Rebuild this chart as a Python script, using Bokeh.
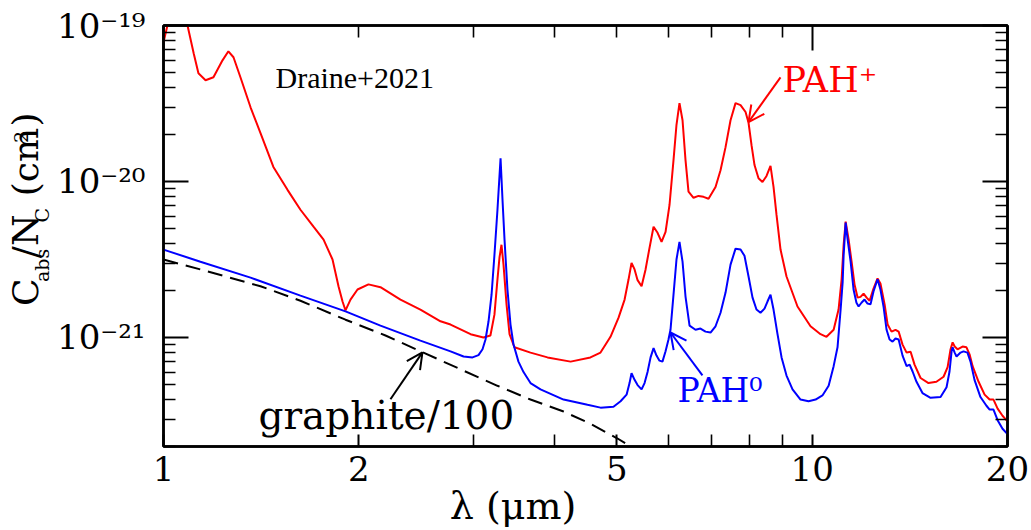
import numpy as np
from bokeh.plotting import figure
from bokeh.layouts import row
from bokeh.models import (Range1d, LogAxis, FixedTicker, CustomJSTickFormatter,
                          Label, Arrow, OpenHead, ColumnDataSource)
from bokeh.core.properties import value
from bokeh.embed import file_html
from bokeh.resources import INLINE

# ---------------- data ----------------
# wavelength in micron, absorption cross section per C atom in units of 1e-21 cm^2
UNIT = 1e-21

pah_ion_wav = [1.000, 1.014, 1.033, 1.051, 1.070, 1.089, 1.113, 1.132, 1.161, 1.194,
               1.233, 1.259, 1.282, 1.314, 1.362, 1.411, 1.477, 1.553, 1.626, 1.703,
               1.765, 1.822, 1.861, 1.888, 1.908, 1.942, 1.991, 2.070, 2.160, 2.319,
               2.489, 2.673, 2.770, 2.974, 3.113, 3.191, 3.237, 3.272, 3.296, 3.319,
               3.343, 3.379, 3.415, 3.476, 3.679, 3.908, 4.242, 4.551, 4.717, 4.887,
               5.029, 5.138, 5.211, 5.266, 5.323, 5.380, 5.457, 5.535, 5.614, 5.694,
               5.776, 5.858, 5.942, 6.026, 6.112, 6.177, 6.243, 6.311, 6.378, 6.446,
               6.562, 6.679, 6.799, 6.921, 7.095, 7.222, 7.352, 7.483, 7.617, 7.754,
               7.893, 7.977, 8.062, 8.148, 8.264, 8.382, 8.503, 8.624, 8.717, 8.810,
               8.936, 9.128, 9.491, 9.940, 10.30, 10.52, 10.79, 10.98, 11.10, 11.18,
               11.26, 11.38, 11.50, 11.62, 11.75, 11.87, 12.00, 12.13, 12.26, 12.43,
               12.61, 12.74, 12.93, 13.07, 13.25, 13.44, 13.59, 13.78, 13.98, 14.18,
               14.38, 14.69, 15.11, 15.54, 15.94, 16.17, 16.34, 16.46, 16.58, 16.75,
               17.05, 17.29, 17.48, 17.67, 18.05, 18.44, 18.77, 19.03, 19.31, 19.65,
               20.00]
pah_ion_cabs = [78, 100, 122, 128, 116, 100, 66.4, 49.4, 44.6, 46.6,
                59.8, 68.3, 62.6, 46.6, 29.9, 20.4, 12.4, 8.84, 6.59, 5.13,
                4.24, 3.16, 2.13, 1.70, 1.49, 1.75, 2.03, 2.19, 2.10, 1.75,
                1.51, 1.27, 1.21, 1.05, 1.00, 1.03, 1.40, 2.36, 3.27, 3.93,
                2.93, 1.63, 1.05, 0.865, 0.80, 0.745, 0.70, 0.745, 0.80, 1.01,
                1.34, 1.75, 2.36, 3.01, 2.73, 2.33, 2.13, 2.73, 3.77, 5.13,
                4.69, 4.10, 4.76, 7.07, 13.7, 23.1, 31.8, 24.7, 13.7, 8.6,
                7.86, 8.08, 7.97, 7.75, 9.23, 11.8, 16.6, 24.7, 31.8, 30.9,
                27.9, 23.8, 17.1, 12.75, 10.5, 9.93, 10.85, 12.6, 9.23, 6.1,
                3.66, 2.46, 1.58, 1.18, 1.05, 1.01, 1.12, 1.51, 2.36, 3.93,
                5.53, 4.24, 3.06, 2.19, 1.80, 1.82, 1.91, 1.80, 1.72, 2.06,
                2.39, 2.22, 1.63, 1.21, 1.09, 1.12, 1.09, 0.90, 0.80, 0.81,
                0.67, 0.55, 0.51, 0.52, 0.56, 0.645, 0.84, 0.93, 0.875, 0.84,
                0.875, 0.865, 0.78, 0.655, 0.52, 0.43, 0.40, 0.40, 0.35, 0.315,
                0.29]

pah_neu_wav = [1.000, 1.140, 1.362, 1.626, 1.908, 2.160, 2.489, 2.770, 2.901, 2.995,
               3.059, 3.103, 3.136, 3.170, 3.204, 3.237, 3.272, 3.308, 3.331, 3.355,
               3.390, 3.427, 3.463, 3.525, 3.589, 3.679, 3.812, 4.137, 4.504, 4.717,
               4.939, 5.065, 5.174, 5.229, 5.266, 5.323, 5.380, 5.457, 5.515, 5.574,
               5.634, 5.694, 5.754, 5.815, 5.877, 5.942, 6.004, 6.047, 6.112, 6.177,
               6.243, 6.311, 6.378, 6.470, 6.608, 6.726, 6.847, 6.970, 7.095, 7.222,
               7.352, 7.483, 7.617, 7.754, 7.863, 7.977, 8.091, 8.205, 8.323, 8.442,
               8.532, 8.624, 8.717, 8.841, 8.969, 9.128, 9.325, 9.594, 9.870, 10.12,
               10.37, 10.60, 10.79, 10.94, 11.06, 11.14, 11.18, 11.26, 11.34, 11.46,
               11.58, 11.70, 11.79, 11.91, 12.04, 12.17, 12.30, 12.43, 12.61, 12.74,
               12.88, 13.02, 13.16, 13.30, 13.44, 13.59, 13.78, 13.98, 14.13, 14.28,
               14.48, 14.79, 15.22, 15.77, 16.11, 16.28, 16.40, 16.46, 16.58, 16.69,
               16.93, 17.11, 17.35, 17.54, 17.79, 18.17, 18.56, 18.77, 19.03, 19.31,
               19.65, 20.00]
pah_neu_cabs = [3.66, 3.06, 2.42, 1.856, 1.47, 1.19, 0.955, 0.815, 0.755, 0.745,
                0.77, 0.84, 0.97, 1.27, 1.88, 3.38, 6.59, 14.1, 7.64, 4.24,
                2.03, 1.21, 0.905, 0.70, 0.60, 0.51, 0.465, 0.40, 0.37, 0.355,
                0.36, 0.39, 0.43, 0.51, 0.59, 0.535, 0.495, 0.465, 0.51, 0.60,
                0.745, 0.855, 0.765, 0.71, 0.70, 0.815, 0.97, 1.12, 1.88, 3.16,
                4.10, 3.06, 1.83, 1.19, 1.12, 1.14, 1.09, 1.075, 1.18, 1.44,
                1.94, 2.93, 3.71, 3.66, 3.34, 2.46, 1.80, 1.51, 1.44, 1.53,
                1.70, 1.88, 1.51, 1.05, 0.745, 0.57, 0.465, 0.40, 0.39, 0.40,
                0.425, 0.49, 0.655, 0.865, 1.51, 2.25, 3.38, 5.45, 4.24, 3.06,
                2.03, 1.67, 1.58, 1.67, 1.75, 1.65, 1.63, 1.97, 2.36, 2.03,
                1.58, 1.12, 0.97, 0.94, 0.985, 0.97, 0.765, 0.655, 0.67, 0.605,
                0.52, 0.44, 0.41, 0.415, 0.48, 0.605, 0.815, 0.865, 0.80, 0.755,
                0.80, 0.815, 0.80, 0.70, 0.535, 0.415, 0.365, 0.345, 0.345, 0.295,
                0.26, 0.24]

graphite_wav = [1.000, 1.140, 1.411, 1.626, 1.908, 2.199, 2.516, 2.870, 3.272, 3.679,
                4.137, 4.551, 5.011, 5.247, 5.535]
graphite_cabs = [3.16, 2.73, 2.13, 1.72, 1.30, 1.03, 0.80, 0.625, 0.49, 0.40,
                 0.335, 0.28, 0.225, 0.20, 0.18]

x_major_labeled = [1, 2, 5, 10, 20]
x_minor = [3, 4, 6, 7, 8, 9]
x_top_major = [1, 10, 20]
x_top_minor = [2, 3, 4, 5, 6, 7, 8, 9]
y_major = [1e-21, 1e-20, 1e-19]
y_minor = [m * 10.0 ** e for e in (-22, -21, -20) for m in range(2, 10)]

# ---------------- main figure ----------------
SERIF = "DejaVu Serif"
TICK_FS = "34px"
LEFT_W = 53

p = figure(width=1031 - LEFT_W, height=530, x_axis_type="log", y_axis_type="log",
           x_range=Range1d(1, 20), y_range=Range1d(2e-22, 1e-19),
           output_backend="svg", toolbar_location=None,
           min_border_left=163 - LEFT_W, min_border_right=24, min_border_top=25,
           min_border_bottom=84)
p.grid.visible = False
p.outline_line_color = "black"
p.outline_line_width = 2.5
p.background_fill_color = "white"
p.border_fill_color = "white"


def style_axis(ax, major_in):
    ax.axis_line_color = "black"
    ax.axis_line_width = 2.5
    ax.major_tick_line_color = "black"
    ax.minor_tick_line_color = "black"
    ax.major_tick_line_width = 2
    ax.minor_tick_line_width = 1.6
    ax.major_tick_out = 0
    ax.minor_tick_out = 0
    ax.major_tick_in = major_in
    ax.minor_tick_in = 12
    ax.major_label_text_font = SERIF
    ax.major_label_text_font_size = TICK_FS
    ax.major_label_text_color = "black"


sup_js = """
const sup = {"-":"\u207b","0":"\u2070","1":"\u00b9","2":"\u00b2","3":"\u00b3",
             "4":"\u2074","5":"\u2075","6":"\u2076","7":"\u2077","8":"\u2078","9":"\u2079"};
const e = Math.round(Math.log10(tick));
return "10" + String(e).split("").map(c => sup[c]).join("");
"""
blank = CustomJSTickFormatter(code="return '';")

# bottom
xb = p.xaxis[0]
xb.ticker = FixedTicker(ticks=x_major_labeled, minor_ticks=x_minor)
xb.formatter = CustomJSTickFormatter(code="return String(Math.round(tick));")
style_axis(xb, 12)
xb.major_label_standoff = 9
NB = "\u00a0"
xb.axis_label = "\u03bb" + NB + "(\u03bcm)" + NB * 12
xb.axis_label_text_font = SERIF
xb.axis_label_text_font_size = "38px"
xb.axis_label_text_font_style = "normal"
xb.axis_label_text_color = "black"
xb.axis_label_standoff = 0

# left
yl = p.yaxis[0]
yl.ticker = FixedTicker(ticks=y_major, minor_ticks=y_minor)
yl.formatter = CustomJSTickFormatter(code=sup_js)
style_axis(yl, 25)
yl.major_label_standoff = 18

# top
xt = LogAxis(ticker=FixedTicker(ticks=x_top_major, minor_ticks=x_top_minor), formatter=blank)
style_axis(xt, 25)
xt.major_label_text_font_size = "0px"
p.add_layout(xt, "above")

# right
yr = LogAxis(ticker=FixedTicker(ticks=y_major, minor_ticks=y_minor), formatter=blank)
style_axis(yr, 25)
yr.major_label_text_font_size = "0px"
p.add_layout(yr, "right")

# ---------------- curves ----------------
src_g = ColumnDataSource(dict(x=graphite_wav, y=np.array(graphite_cabs) * UNIT))
src_i = ColumnDataSource(dict(x=pah_ion_wav, y=np.array(pah_ion_cabs) * UNIT))
src_n = ColumnDataSource(dict(x=pah_neu_wav, y=np.array(pah_neu_cabs) * UNIT))

p.line("x", "y", source=src_g, line_color="black", line_width=2, line_dash="15 8")
p.line("x", "y", source=src_i, line_color="#ff0000", line_width=2)
p.line("x", "y", source=src_n, line_color="#0000ff", line_width=2)

# ---------------- annotations ----------------
p.add_layout(Label(x=1.488, y=4.65e-20, text="Draine+2021", text_font="Liberation Serif",
                   text_font_size="30px", text_color="black", text_baseline="alphabetic"))
p.add_layout(Label(x=9.0, y=4.45e-20, text="PAH\u207a", text_font=SERIF,
                   text_font_size="35px", text_color="#ff0000", text_baseline="alphabetic"))
p.add_layout(Label(x=6.20, y=4.59e-22, text="PAH\u2070", text_font=SERIF,
                   text_font_size="33px", text_color="#0000ff", text_baseline="alphabetic"))
p.add_layout(Label(x=1.401, y=3.17e-22, text="graphite/100", text_font=SERIF,
                   text_font_size="39px", text_color="black", text_baseline="alphabetic"))

p.add_layout(Arrow(x_start=8.935, y_start=4.65e-20, x_end=7.976, y_end=2.40e-20,
                   line_color="#ff0000", line_width=2,
                   end=OpenHead(size=16, line_color="#ff0000", line_width=2)))
p.add_layout(Arrow(x_start=6.773, y_start=5.72e-22, x_end=6.047, y_end=1.076e-21,
                   line_color="#0000ff", line_width=2,
                   end=OpenHead(size=16, line_color="#0000ff", line_width=2)))
p.add_layout(Arrow(x_start=2.238, y_start=4.02e-22, x_end=2.507, y_end=8.02e-22,
                   line_color="black", line_width=2,
                   end=OpenHead(size=16, line_color="black", line_width=2)))

# ---------------- y-axis label strip (pixel-like helper canvas) ----------------
lab = figure(width=LEFT_W, height=530, x_range=Range1d(0, LEFT_W), y_range=Range1d(0, 530),
             output_backend="svg", toolbar_location=None, min_border=0,
             x_axis_location=None, y_axis_location=None)
lab.grid.visible = False
lab.outline_line_color = None
lab.background_fill_color = "white"
lab.border_fill_color = "white"

# text centre lines (text is rotated to read upwards)
big = ColumnDataSource(dict(x=[24.5, 24.5, 24.5, 24.5], y=[177, 237, 315, 403],
                            t=["C", "/N", "(cm", ")"]))
small = ColumnDataSource(dict(x=[41.5, 41.0, 20.5], y=[207, 282, 382], t=["abs", "C", "2"]))
lab.text("x", "y", text="t", source=big, angle=np.pi / 2, text_font=value(SERIF),
         text_font_size="36px", text_color="black", text_baseline="middle",
         text_align="left")
lab.text("x", "y", text="t", source=small, angle=np.pi / 2, text_font=value(SERIF),
         text_font_size="19px", text_color="black", text_baseline="middle",
         text_align="left")

layout = row(lab, p)

with open("out.html", "w", encoding="utf-8") as f:
    f.write(file_html(layout, INLINE))
